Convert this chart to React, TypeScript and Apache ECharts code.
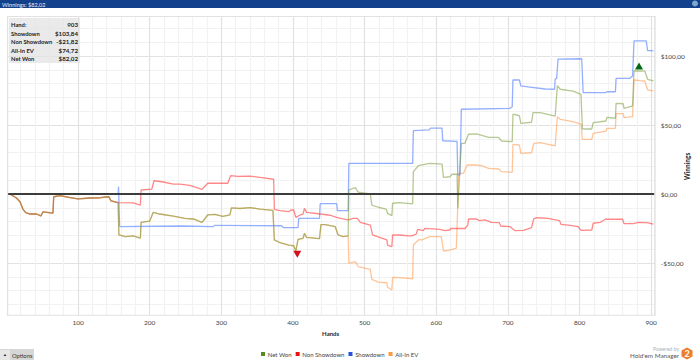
import React, { useEffect, useRef } from "react";
import * as echarts from "echarts";

type P = [number, number];

const sharedEarly: P[] = [[2,0],[5,0],[14,-2.9],[19,-5.6],[23,-10.9],[27,-13.5],[33,-14.5],[42,-14.5],[48,-15.9],[51,-13],[65,-13.8],[66,-2],[75,-1.2],[89,-2.7],[100,-3.6],[117,-2.9],[131,-2.7],[143,-2],[146,-5],[156,-6.3]];

const netWonShared: P[] = [[157,-29.7],[166,-30.9],[177,-30.4],[187,-32],[188,-20.5],[200,-19.6],[205,-13.3],[214,-14.5],[233,-16],[242,-16.9],[249,-17.6],[261,-18.1],[273,-20.5],[281,-15.2],[291,-14.7],[302,-16.2],[312,-15.2],[314,-10.1],[326,-10.5],[340,-9.9],[354,-10.9],[372,-11.8],[374,-33.3],[382,-35.3],[394,-37],[401,-37.5],[404,-41.3],[407,-32.8],[414,-32.1],[416,-28.5],[419,-31.4],[437,-32.4],[439,-22.2],[445,-22.2],[459,-23.7],[463,-29.7],[470,-30.9],[477,-30.4]];

const netWonLate: P[] = [[478,2.9],[482,3.8],[487,4.6],[491,1.4],[508,0],[510,-8],[519,-9.6],[530,-10.9],[532,-14],[538,-15.7],[539,-6.7],[549,-6.3],[567,-7.2],[568,16.2],[575,20.5],[591,22.2],[608,21.7],[610,12.1],[619,12.5],[622,14.3],[629,14.3],[630,-10.4],[635,36.7],[640,36.7],[645,43.3],[656,43.5],[666,42.2],[673,41.1],[687,41.1],[691,38.4],[706,37.9],[707,57.8],[716,56.7],[718,51.2],[733,52],[735,58.9],[745,58.9],[766,56.5],[767,63.8],[769,78.5],[773,75.9],[791,74.6],[802,72.2],[804,47.1],[817,47.1],[819,51.7],[837,52.9],[838,55.6],[850,54.9],[851,65.7],[861,65.4],[862,62.1],[874,63.8],[876,89.3],[891,89.1],[895,83.1],[903,82.02]];

const nonShowdownLate: P[] = [[177,-6.5],[187,-8],[188,2.9],[203,3.6],[206,9.6],[219,8.7],[233,7.2],[242,7.2],[256,6.3],[273,3.4],[281,7.8],[309,7.8],[313,13.3],[323,12.8],[340,13],[354,12],[373,10.7],[374,-11.1],[382,-12.1],[394,-12.8],[397,-11.6],[401,-11.6],[404,-16.9],[410,-15.2],[414,-14.5],[416,-10.4],[419,-13.3],[438,-14.5],[452,-15.4],[461,-16.9],[468,-17.9],[477,-18.8],[484,-17.6],[490,-17.6],[494,-20.5],[508,-22.5],[511,-29.7],[521,-31.4],[531,-33.3],[532,-37],[538,-38.2],[539,-29.7],[549,-29.7],[561,-30.4],[566,-30.4],[572,-29],[574,-25.6],[582,-26.6],[584,-24.9],[605,-25.6],[612,-26.6],[619,-26.1],[620,-24.9],[640,-25],[644,-22.5],[645,-18.1],[656,-18.1],[660,-19.3],[668,-18.8],[677,-20.5],[688,-20.8],[690,-23.2],[703,-23.7],[710,-26.6],[722,-26.3],[733,-24.4],[736,-18.1],[741,-17.2],[756,-17.6],[772,-19.3],[774,-22],[787,-22.7],[798,-23.7],[802,-26.3],[817,-26.1],[819,-21.2],[829,-20.5],[836,-18.3],[860,-18.3],[862,-21.5],[875,-21.5],[882,-20.5],[894,-20.8],[903,-21.82]];

const showdownValues: P[] = [[2,0],[156,0],[156.5,5.3],[158,-23],[159,-23.7],[245,-23.2],[288,-23.7],[291,-22.7],[384,-23],[387,-24.4],[407,-24.4],[408,-17.6],[437,-17.6],[438,-7],[461,-7],[462,-12.1],[477,-12.1],[478,22.2],[567,22.2],[568,45.9],[590,46.4],[592,47.8],[608,47.8],[609,38.6],[629,38.2],[630,13.8],[633,13.8],[635,61.4],[703,62.1],[706,63.3],[707,82.6],[716,82.6],[718,78.3],[728,77.7],[752,76.1],[765,75.9],[766,83.3],[768,83.8],[770,97.8],[803,98],[805,73.4],[836,73.4],[838,74.1],[850,74.1],[851,83.8],[870,83.8],[874,85.5],[876,110.9],[893,110.9],[895,103.84],[903,103.84]];

const allInLate: P[] = [[478,-50.2],[487,-49],[491,-52.7],[508,-54.6],[510,-61.8],[519,-63.8],[531,-64.3],[532,-67.6],[538,-69.6],[539,-60.4],[549,-60.6],[567,-61.4],[568,-37],[575,-33.3],[580,-33.3],[591,-30.9],[607,-30.9],[610,-41.3],[619,-40.6],[628,-39.3],[630,-8],[631,15],[638,15],[643,21],[654,21],[663,20.5],[673,18.6],[687,18.1],[691,16.2],[706,15.7],[707,36],[716,35.5],[718,29.5],[733,29.9],[736,36.7],[745,37.2],[766,34.8],[767,42],[769,56],[773,54.1],[791,52.4],[802,50.7],[804,39.6],[817,39.6],[819,44],[837,45.6],[838,47.6],[850,47.6],[851,58.2],[861,58.2],[862,55.3],[874,56],[876,82.6],[884,82.1],[891,81.9],[895,75.4],[903,74.72]];

const netWon: P[] = [...sharedEarly, ...netWonShared, ...netWonLate];
const nonShowdown: P[] = [...sharedEarly, ...nonShowdownLate];
const allInEV: P[] = [...sharedEarly, ...netWonShared, ...allInLate];

const maxMarker: P = [883, 92.7];
const minMarker: P = [406, -43.7];

const statLabels = ["Hand:", "Showdown", "Non Showdown", "All-In EV", "Net Won"];
const statValues = ["903", "$103,84", "-$21,82", "$74,72", "$82,02"];
const legendNames = ["Net Won", "Non Showdown", "Showdown", "All-In EV"];

const FONT = 'Lato, sans-serif';
const MAJOR = "#e2e2e2";
const MINOR = "#f2f2f2";

function money(v: number) {
  return (v < 0 ? "-$" : "$") + Math.abs(v).toFixed(2).replace(".", ",");
}

function lineSeries(name: string, data: P[], color: string, legendColor: string, opacity: number, extra: object = {}) {
  return {
    name,
    type: "line",
    data,
    symbol: "none",
    silent: true,
    itemStyle: { color: legendColor },
    lineStyle: { color, width: 1.3, opacity },
    ...extra,
  };
}

export default function App() {
  const ref = useRef<HTMLDivElement>(null);
  useEffect(() => {
    const chart = echarts.init(ref.current!, null, { renderer: "svg" });
    const rows = statLabels.flatMap((label, i) => [
      { type: "text", x: 11, y: 24.5 + i * 8.5, style: { text: label, fill: "#222", font: `bold 5.8px ${FONT}`, verticalAlign: "middle", align: "left" }, z: 21 },
      { type: "text", x: 78, y: 24.5 + i * 8.5, style: { text: statValues[i], fill: "#222", font: `bold 6.2px ${FONT}`, verticalAlign: "middle", align: "right" }, z: 21 },
    ]);
    const border = (x: number, y: number, width: number, height: number) => ({
      type: "rect", shape: { x, y, width, height }, style: { fill: MAJOR }, z: 19,
    });
    const mask = (x: number, y: number, width: number, height: number) => ({
      type: "rect", shape: { x, y, width, height }, style: { fill: "#ffffff" }, z: 18,
    });
    chart.setOption({
      animation: false,
      backgroundColor: "#ffffff",
      textStyle: { fontFamily: FONT },
      grid: { left: 6.4, right: 45.2, top: 14.6, bottom: 41.8, outerBoundsMode: "none" },
      legend: {
        left: 261,
        top: 351,
        icon: "rect",
        itemWidth: 4,
        itemHeight: 4,
        itemGap: 4,
        padding: 0,
        selectedMode: false,
        textStyle: { fontSize: 6, color: "#444", padding: [0, 0, 0, -2.3], fontFamily: FONT },
        data: legendNames,
      },
      xAxis: {
        type: "value", min: 0, max: 905, interval: 20,
        name: "Hands", nameLocation: "middle", nameGap: 11,
        nameTextStyle: { fontSize: 6, fontWeight: "bold", color: "#222", fontFamily: FONT },
        axisLine: { show: false }, axisTick: { show: false },
        axisLabel: {
          fontSize: 6.5, color: "#444", margin: 0.5, fontFamily: FONT,
          formatter: (v: number) => (v > 0 && v % 100 === 0 ? String(v) : ""),
        },
        splitLine: { show: true, lineStyle: { color: [MAJOR, MINOR, MINOR, MINOR, MINOR], width: 1.2 } },
      },
      yAxis: {
        type: "value", min: -90, max: 130, interval: 10, position: "right",
        name: "Winnings", nameLocation: "middle", nameGap: 29, nameRotate: 90, nameMoveOverlap: false,
        nameTextStyle: { fontSize: 6.5, fontWeight: "bold", color: "#222", fontFamily: FONT },
        axisLine: { show: false }, axisTick: { show: false },
        axisLabel: {
          fontSize: 6.5, color: "#444", margin: 6, fontFamily: FONT,
          formatter: (v: number) => (v % 50 === 0 ? money(v) : ""),
        },
        splitLine: { show: true, lineStyle: { color: [MINOR, MINOR, MINOR, MINOR, MAJOR], width: 1 } },
      },
      series: [
        lineSeries("All-In EV", allInEV, "#ff9f55", "#ff9a40", 0.6),
        lineSeries("Non Showdown", nonShowdown, "#ff3b3b", "#e81212", 0.6),
        lineSeries("Showdown", showdownValues, "#5b84ff", "#2552e0", 0.65),
        lineSeries("Net Won", netWon, "#7a9a3a", "#5a8a1e", 0.55, {
          markLine: {
            silent: true, symbol: "none", z: 10, label: { show: false },
            lineStyle: { color: "#3c3c3c", width: 2, type: "solid" },
            data: [{ yAxis: 0 }],
          },
          markPoint: {
            silent: true, z: 11, label: { show: false },
            data: [
              { coord: maxMarker, symbol: "triangle", symbolSize: [8, 7], itemStyle: { color: "#006a10" } },
              { coord: minMarker, symbol: "triangle", symbolRotate: 180, symbolSize: [8, 7], itemStyle: { color: "#d40f1e" } },
            ],
          },
        }),
      ],
      graphic: [
        mask(0, 8, 700, 8),
        mask(0, 315.5, 660, 3.5),
        mask(0, 8, 7, 311),
        border(7, 16, 648, 1),
        border(7, 314.8, 648, 1),
        border(7, 16, 1.2, 299.8),
        border(654.2, 16, 1.2, 299.8),
        { type: "rect", shape: { x: 0, y: 0, width: 700, height: 8 }, style: { fill: "#14418c" }, z: 20 },
        { type: "text", x: 2, y: 4, style: { text: "Winnings: $82,02", fill: "#e8eef8", font: `5.6px ${FONT}`, verticalAlign: "middle" }, z: 21 },
        { type: "circle", shape: { cx: 695, cy: 3.5, r: 3 }, style: { fill: "#7fa8cc" }, z: 21 },
        { type: "rect", shape: { x: 9, y: 18, width: 71, height: 45 }, style: { fill: "rgba(226,226,226,0.72)" }, z: 20 },
        ...rows,
        { type: "rect", shape: { x: 0, y: 349, width: 34, height: 11 }, style: { fill: "#d6d6d6" }, z: 20 },
        { type: "rect", shape: { x: 0, y: 350, width: 10, height: 10 }, style: { fill: "#e6e6e6" }, z: 21 },
        { type: "polygon", shape: { points: [[3.5, 356], [6.5, 356], [5, 354]] }, style: { fill: "#333" }, z: 22 },
        { type: "text", x: 12, y: 355, style: { text: "Options", fill: "#333", font: `5.8px ${FONT}`, verticalAlign: "middle" }, z: 22 },
        { type: "text", x: 679, y: 348.5, style: { text: "Powered by", fill: "#b0b0b0", font: `5px ${FONT}`, align: "right", verticalAlign: "middle" }, z: 21 },
        { type: "text", x: 679, y: 355, style: { text: "Hold'em Manager", fill: "#555", font: `6.3px ${FONT}`, align: "right", verticalAlign: "middle" }, z: 21 },
        { type: "polygon", shape: { points: [[687, 347.5], [692.5, 350.5], [692.5, 356.5], [687, 359.5], [681.5, 356.5], [681.5, 350.5]] }, style: { fill: "#ee7d2d" }, z: 21 },
        { type: "text", x: 687, y: 353.5, style: { text: "2", fill: "#fff", font: `bold 9px ${FONT}`, align: "center", verticalAlign: "middle" }, z: 22 },
      ],
    });
    return () => chart.dispose();
  }, []);
  return <div ref={ref} style={{ position: "fixed", left: 0, top: 0, width: 700, height: 360 }} />;
}
